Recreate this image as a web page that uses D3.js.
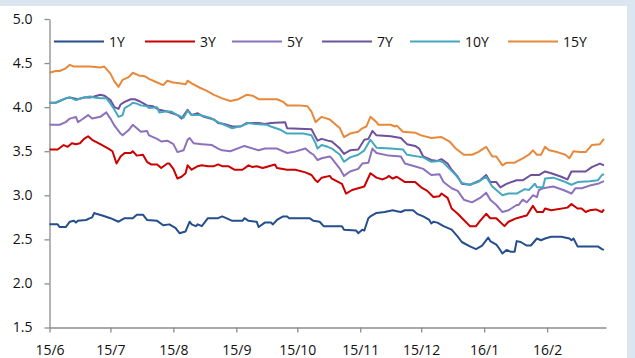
<!DOCTYPE html>
<html>
<head>
<meta charset="utf-8">
<script src="https://cdn.jsdelivr.net/npm/d3@7"></script>
<style>
  html, body { margin: 0; padding: 0; background: #dce6f1; }
  svg { display: block; }
  text { font-family: "Open Sans", sans-serif; fill: #111; }
</style>
</head>
<body>
<div class="display"></div>
<script>
// yields (%), [yy-mm-dd, value]
const y1 = [["15-06-01",2.67],["15-06-05",2.67],["15-06-06",2.64],["15-06-09",2.64],["15-06-11",2.70],["15-06-13",2.71],["15-06-14",2.69],["15-06-15",2.71],["15-06-19",2.72],["15-06-21",2.74],["15-06-22",2.75],["15-06-23",2.80],["15-06-24",2.79],["15-06-27",2.77],["15-07-01",2.74],["15-07-05",2.70],["15-07-08",2.74],["15-07-12",2.74],["15-07-14",2.78],["15-07-17",2.78],["15-07-19",2.72],["15-07-24",2.71],["15-07-27",2.66],["15-07-30",2.67],["15-08-02",2.63],["15-08-04",2.57],["15-08-07",2.59],["15-08-09",2.70],["15-08-10",2.67],["15-08-12",2.65],["15-08-13",2.67],["15-08-15",2.65],["15-08-18",2.74],["15-08-23",2.74],["15-08-25",2.76],["15-08-27",2.74],["15-08-30",2.71],["15-09-04",2.71],["15-09-05",2.74],["15-09-07",2.71],["15-09-11",2.70],["15-09-12",2.64],["15-09-15",2.69],["15-09-18",2.69],["15-09-19",2.67],["15-09-21",2.72],["15-09-24",2.76],["15-09-26",2.76],["15-09-27",2.74],["15-10-07",2.74],["15-10-09",2.71],["15-10-12",2.70],["15-10-14",2.65],["15-10-23",2.65],["15-10-24",2.61],["15-10-30",2.60],["15-10-31",2.57],["15-11-02",2.61],["15-11-03",2.60],["15-11-05",2.74],["15-11-06",2.76],["15-11-09",2.80],["15-11-13",2.81],["15-11-17",2.83],["15-11-19",2.82],["15-11-21",2.81],["15-11-23",2.83],["15-11-27",2.83],["15-11-29",2.79],["15-12-02",2.76],["15-12-05",2.72],["15-12-06",2.68],["15-12-07",2.70],["15-12-09",2.69],["15-12-12",2.65],["15-12-16",2.61],["15-12-19",2.53],["15-12-21",2.47],["15-12-25",2.42],["15-12-28",2.39],["15-12-31",2.43],["16-01-03",2.52],["16-01-04",2.48],["16-01-07",2.44],["16-01-08",2.41],["16-01-10",2.34],["16-01-12",2.38],["16-01-14",2.36],["16-01-16",2.36],["16-01-17",2.48],["16-01-19",2.47],["16-01-22",2.43],["16-01-24",2.43],["16-01-27",2.51],["16-01-29",2.49],["16-01-31",2.51],["16-02-03",2.53],["16-02-08",2.53],["16-02-12",2.51],["16-02-13",2.49],["16-02-14",2.51],["16-02-16",2.42],["16-02-26",2.42],["16-02-28",2.39],["16-02-29",2.38]];

const y3 = [["15-06-01",3.52],["15-06-05",3.52],["15-06-08",3.57],["15-06-10",3.55],["15-06-12",3.59],["15-06-14",3.58],["15-06-16",3.59],["15-06-18",3.64],["15-06-20",3.67],["15-06-22",3.63],["15-06-26",3.58],["15-06-30",3.53],["15-07-02",3.50],["15-07-04",3.36],["15-07-06",3.44],["15-07-08",3.48],["15-07-11",3.48],["15-07-12",3.50],["15-07-14",3.45],["15-07-17",3.46],["15-07-19",3.38],["15-07-21",3.35],["15-07-24",3.35],["15-07-26",3.31],["15-07-29",3.36],["15-07-30",3.36],["15-08-01",3.30],["15-08-03",3.19],["15-08-05",3.21],["15-08-07",3.25],["15-08-08",3.34],["15-08-10",3.29],["15-08-13",3.33],["15-08-15",3.34],["15-08-18",3.33],["15-08-21",3.33],["15-08-23",3.35],["15-08-25",3.33],["15-08-28",3.33],["15-08-31",3.29],["15-09-04",3.29],["15-09-07",3.34],["15-09-09",3.32],["15-09-11",3.33],["15-09-14",3.31],["15-09-17",3.33],["15-09-20",3.35],["15-09-21",3.31],["15-09-26",3.29],["15-09-30",3.29],["15-10-05",3.26],["15-10-08",3.23],["15-10-10",3.17],["15-10-11",3.15],["15-10-13",3.20],["15-10-17",3.22],["15-10-18",3.19],["15-10-23",3.13],["15-10-25",3.02],["15-10-28",3.06],["15-10-31",3.08],["15-11-03",3.10],["15-11-06",3.25],["15-11-09",3.20],["15-11-12",3.18],["15-11-14",3.20],["15-11-15",3.22],["15-11-17",3.19],["15-11-19",3.21],["15-11-23",3.15],["15-11-28",3.15],["15-12-01",3.09],["15-12-04",3.05],["15-12-07",2.98],["15-12-10",2.99],["15-12-11",3.02],["15-12-14",2.97],["15-12-16",2.85],["15-12-19",2.79],["15-12-22",2.72],["15-12-25",2.65],["15-12-28",2.65],["15-12-30",2.71],["16-01-02",2.79],["16-01-04",2.74],["16-01-07",2.74],["16-01-11",2.65],["16-01-13",2.70],["16-01-17",2.74],["16-01-20",2.76],["16-01-22",2.77],["16-01-25",2.88],["16-01-27",2.81],["16-01-30",2.81],["16-01-31",2.85],["16-02-03",2.83],["16-02-11",2.86],["16-02-13",2.90],["16-02-16",2.85],["16-02-18",2.85],["16-02-20",2.81],["16-02-22",2.83],["16-02-25",2.84],["16-02-28",2.81],["16-02-29",2.84]];

const y5 = [["15-06-01",3.80],["15-06-06",3.80],["15-06-09",3.83],["15-06-11",3.87],["15-06-14",3.89],["15-06-15",3.83],["15-06-17",3.86],["15-06-20",3.91],["15-06-22",3.87],["15-06-26",3.89],["15-06-29",3.94],["15-07-01",3.87],["15-07-03",3.79],["15-07-06",3.70],["15-07-07",3.68],["15-07-10",3.74],["15-07-12",3.80],["15-07-14",3.76],["15-07-16",3.72],["15-07-19",3.73],["15-07-20",3.68],["15-07-24",3.64],["15-07-26",3.61],["15-07-29",3.62],["15-08-01",3.58],["15-08-03",3.49],["15-08-06",3.51],["15-08-08",3.63],["15-08-09",3.65],["15-08-11",3.59],["15-08-15",3.58],["15-08-20",3.57],["15-08-23",3.53],["15-08-25",3.51],["15-08-29",3.50],["15-09-05",3.56],["15-09-12",3.51],["15-09-15",3.53],["15-09-21",3.53],["15-09-26",3.48],["15-09-29",3.49],["15-10-05",3.53],["15-10-07",3.49],["15-10-09",3.46],["15-10-11",3.40],["15-10-13",3.42],["15-10-17",3.44],["15-10-18",3.42],["15-10-22",3.30],["15-10-24",3.22],["15-10-27",3.27],["15-10-31",3.30],["15-11-02",3.36],["15-11-05",3.37],["15-11-07",3.53],["15-11-09",3.48],["15-11-15",3.45],["15-11-21",3.44],["15-11-23",3.36],["15-11-29",3.32],["15-12-02",3.30],["15-12-06",3.23],["15-12-10",3.24],["15-12-12",3.15],["15-12-16",3.08],["15-12-19",3.05],["15-12-22",2.95],["15-12-26",2.92],["15-12-30",2.97],["16-01-02",3.03],["16-01-04",2.95],["16-01-07",2.89],["16-01-10",2.81],["16-01-13",2.83],["16-01-17",2.89],["16-01-18",2.89],["16-01-20",2.95],["16-01-22",2.92],["16-01-25",3.00],["16-01-27",2.98],["16-01-28",3.06],["16-01-30",3.08],["16-02-04",3.10],["16-02-09",3.06],["16-02-13",3.02],["16-02-15",3.08],["16-02-18",3.08],["16-02-22",3.11],["16-02-26",3.13],["16-02-29",3.16]];

const y7 = [["15-06-01",4.05],["15-06-04",4.05],["15-06-06",4.07],["15-06-09",4.10],["15-06-11",4.11],["15-06-15",4.09],["15-06-18",4.11],["15-06-21",4.11],["15-06-23",4.12],["15-06-26",4.14],["15-06-28",4.13],["15-07-01",4.08],["15-07-03",4.00],["15-07-05",3.98],["15-07-06",4.03],["15-07-08",4.06],["15-07-11",4.09],["15-07-13",4.09],["15-07-15",4.07],["15-07-19",4.02],["15-07-22",4.01],["15-07-25",3.97],["15-07-29",3.95],["15-08-03",3.91],["15-08-05",3.87],["15-08-08",3.97],["15-08-10",3.91],["15-08-13",3.93],["15-08-16",3.89],["15-08-21",3.86],["15-08-23",3.82],["15-08-26",3.81],["15-08-30",3.78],["15-09-03",3.78],["15-09-06",3.82],["15-09-12",3.82],["15-09-15",3.81],["15-09-18",3.82],["15-09-25",3.83],["15-09-26",3.76],["15-10-08",3.75],["15-10-10",3.66],["15-10-11",3.62],["15-10-13",3.64],["15-10-16",3.62],["15-10-18",3.61],["15-10-22",3.53],["15-10-24",3.47],["15-10-27",3.51],["15-10-31",3.52],["15-11-03",3.63],["15-11-05",3.64],["15-11-07",3.73],["15-11-09",3.68],["15-11-16",3.67],["15-11-21",3.65],["15-11-24",3.58],["15-11-28",3.56],["15-11-30",3.53],["15-12-02",3.44],["15-12-06",3.40],["15-12-09",3.39],["15-12-11",3.41],["15-12-14",3.36],["15-12-16",3.29],["15-12-19",3.21],["15-12-21",3.13],["15-12-25",3.12],["15-12-30",3.17],["16-01-02",3.23],["16-01-04",3.15],["16-01-07",3.15],["16-01-09",3.09],["16-01-12",3.13],["16-01-17",3.17],["16-01-20",3.17],["16-01-24",3.23],["16-01-28",3.23],["16-01-31",3.27],["16-02-03",3.25],["16-02-08",3.21],["16-02-11",3.18],["16-02-13",3.27],["16-02-20",3.27],["16-02-23",3.32],["16-02-27",3.36],["16-02-29",3.34]];

const y10 = [["15-06-01",4.05],["15-06-04",4.05],["15-06-06",4.07],["15-06-09",4.10],["15-06-11",4.11],["15-06-14",4.08],["15-06-15",4.09],["15-06-18",4.11],["15-06-21",4.12],["15-06-23",4.11],["15-06-26",4.10],["15-06-29",4.10],["15-07-01",4.04],["15-07-03",3.97],["15-07-05",3.89],["15-07-07",3.91],["15-07-08",3.99],["15-07-11",4.03],["15-07-12",4.05],["15-07-14",4.04],["15-07-16",4.02],["15-07-19",4.01],["15-07-20",3.99],["15-07-24",4.00],["15-07-25",3.94],["15-07-28",3.95],["15-07-31",3.95],["15-08-03",3.91],["15-08-06",3.88],["15-08-08",3.96],["15-08-10",3.91],["15-08-14",3.91],["15-08-19",3.88],["15-08-23",3.83],["15-08-28",3.78],["15-08-30",3.76],["15-09-04",3.79],["15-09-07",3.82],["15-09-10",3.81],["15-09-16",3.80],["15-09-18",3.78],["15-09-23",3.74],["15-09-26",3.70],["15-10-04",3.70],["15-10-08",3.68],["15-10-10",3.59],["15-10-11",3.53],["15-10-13",3.57],["15-10-16",3.55],["15-10-18",3.53],["15-10-22",3.46],["15-10-24",3.38],["15-10-27",3.43],["15-10-31",3.46],["15-11-03",3.51],["15-11-06",3.63],["15-11-09",3.54],["15-11-16",3.53],["15-11-22",3.52],["15-11-24",3.46],["15-12-02",3.43],["15-12-06",3.38],["15-12-10",3.39],["15-12-12",3.37],["15-12-15",3.30],["15-12-18",3.23],["15-12-21",3.14],["15-12-25",3.12],["15-12-29",3.15],["16-01-02",3.21],["16-01-05",3.10],["16-01-10",3.00],["16-01-13",3.02],["16-01-17",3.02],["16-01-21",3.07],["16-01-23",3.06],["16-01-26",3.13],["16-01-27",3.09],["16-01-30",3.09],["16-01-31",3.19],["16-02-04",3.20],["16-02-09",3.16],["16-02-13",3.12],["16-02-16",3.15],["16-02-22",3.16],["16-02-26",3.17],["16-02-28",3.23],["16-02-29",3.24]];

const y15 = [["15-06-01",4.39],["15-06-04",4.41],["15-06-06",4.41],["15-06-09",4.44],["15-06-11",4.48],["15-06-13",4.46],["15-06-16",4.46],["15-06-21",4.46],["15-06-26",4.45],["15-06-28",4.46],["15-07-01",4.38],["15-07-03",4.29],["15-07-05",4.23],["15-07-07",4.31],["15-07-10",4.34],["15-07-12",4.39],["15-07-15",4.36],["15-07-18",4.35],["15-07-20",4.32],["15-07-24",4.28],["15-07-27",4.25],["15-07-29",4.30],["15-08-01",4.28],["15-08-04",4.27],["15-08-07",4.26],["15-08-08",4.30],["15-08-10",4.27],["15-08-14",4.22],["15-08-17",4.19],["15-08-21",4.14],["15-08-25",4.10],["15-08-29",4.07],["15-09-02",4.09],["15-09-06",4.14],["15-09-09",4.13],["15-09-12",4.09],["15-09-16",4.09],["15-09-21",4.09],["15-09-24",4.06],["15-09-26",4.02],["15-10-02",4.02],["15-10-06",4.01],["15-10-08",3.95],["15-10-10",3.83],["15-10-13",3.89],["15-10-17",3.86],["15-10-22",3.76],["15-10-24",3.66],["15-10-27",3.70],["15-10-31",3.72],["15-11-02",3.76],["15-11-04",3.78],["15-11-06",3.89],["15-11-09",3.83],["15-11-10",3.80],["15-11-16",3.80],["15-11-18",3.78],["15-11-19",3.79],["15-11-22",3.72],["15-11-28",3.71],["15-12-01",3.68],["15-12-06",3.65],["15-12-11",3.66],["15-12-15",3.61],["15-12-18",3.53],["15-12-22",3.46],["15-12-26",3.46],["15-12-29",3.49],["16-01-02",3.55],["16-01-05",3.44],["16-01-07",3.44],["16-01-10",3.34],["16-01-12",3.37],["16-01-16",3.37],["16-01-20",3.42],["16-01-23",3.46],["16-01-25",3.51],["16-01-27",3.46],["16-01-29",3.46],["16-01-31",3.55],["16-02-02",3.51],["16-02-06",3.49],["16-02-10",3.46],["16-02-12",3.42],["16-02-14",3.50],["16-02-17",3.49],["16-02-20",3.49],["16-02-23",3.57],["16-02-27",3.58],["16-02-29",3.64]];

const seriesNames = ['1Y', '3Y', '5Y', '7Y', '10Y', '15Y'];
const seriesData = [y1, y3, y5, y7, y10, y15];
const colors = ['#254e8c', '#cc0000', '#8d71bd', '#6f509c', '#45a7c0', '#e8883b'];
const yTicks = [1.5, 2.0, 2.5, 3.0, 3.5, 4.0, 4.5, 5.0];

const width = 635;
const height = 358;
const parse = d3.timeParse('%y-%m-%d');

const svg = d3.select('.display')
    .append('svg')
    .attr('width', width)
    .attr('height', height);

svg.append('rect')
    .attr('x', 0)
    .attr('y', 6)
    .attr('width', 627)
    .attr('height', height - 6)
    .attr('fill', 'white');

const xScale = d3.scaleTime()
    .domain([new Date(2015, 5, 1), new Date(2016, 2, 1)])
    .range([49.5, 606]);

const yScale = d3.scaleLinear()
    .domain([1.5, 5])
    .range([327.5, 19]);

const yAxis = d3.axisLeft(yScale)
    .tickValues(yTicks)
    .tickFormat(d3.format('.1f'))
    .tickSize(5)
    .tickSizeOuter(0)
    .tickPadding(12);

const xAxis = d3.axisBottom(xScale)
    .tickValues(d3.timeMonth.range(new Date(2015, 5, 1), new Date(2016, 2, 1)))
    .tickFormat(d3.timeFormat('%y/%-m'))
    .tickSize(5)
    .tickSizeOuter(0)
    .tickPadding(13);

const gy = svg.append('g')
    .attr('transform', 'translate(49.5, 0)')
    .call(yAxis);

const gx = svg.append('g')
    .attr('transform', 'translate(0, 327.5)')
    .call(xAxis);

[gx, gy].forEach(g => {
    g.select('.domain').attr('stroke', '#8c8c8c').attr('stroke-width', 1.3);
    g.selectAll('.tick line').attr('stroke', '#8c8c8c').attr('stroke-width', 1.3);
    g.selectAll('.tick text')
        .style('font-family', '"Open Sans", sans-serif')
        .style('font-size', '14px')
        .attr('fill', '#111');
});

const line = d3.line()
    .x(d => xScale(parse(d[0])))
    .y(d => yScale(d[1]));

seriesData.forEach((data, i) => {
    svg.append('path')
        .datum(data)
        .attr('fill', 'none')
        .attr('stroke', colors[i])
        .attr('stroke-width', 2)
        .attr('stroke-linejoin', 'round')
        .attr('d', line);
});

// legend
const legendX = [54, 145, 232, 322, 410, 508];
const legend = svg.append('g');
seriesNames.forEach((name, i) => {
    legend.append('line')
        .attr('x1', legendX[i])
        .attr('x2', legendX[i] + 50)
        .attr('y1', 41.5)
        .attr('y2', 41.5)
        .attr('stroke', colors[i])
        .attr('stroke-width', 2);
    legend.append('text')
        .attr('x', legendX[i] + 55)
        .attr('y', 46.5)
        .style('font-size', '14px')
        .text(name);
});
</script>
</body>
</html>
